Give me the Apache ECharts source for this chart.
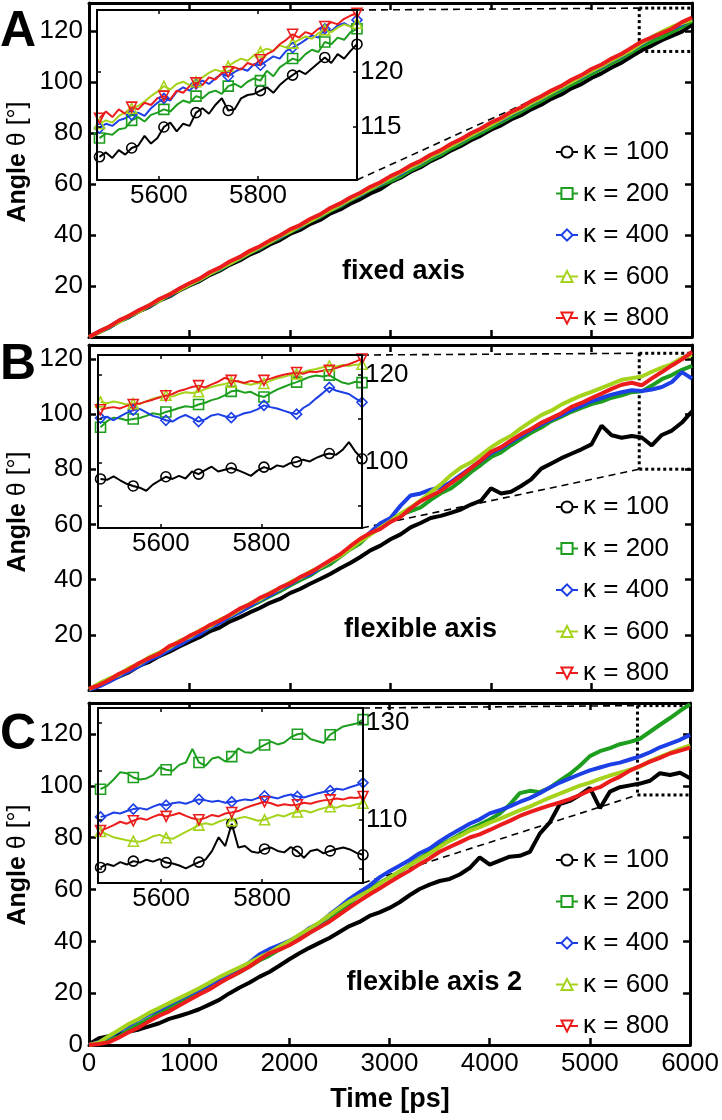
<!DOCTYPE html>
<html>
<head>
<meta charset="utf-8">
<script src="https://cdn.jsdelivr.net/npm/echarts@6/dist/echarts.min.js"></script>
<style>
html, body { margin: 0; padding: 0; background: #fff; }
#chart { width: 722px; height: 1120px; }
</style>
</head>
<body>
<div id="chart"></div>
<script>
// time axis of the main panels [ps]
var tMain = [0, 100, 200, 300, 400, 500, 600, 700, 800, 900,
  1000, 1100, 1200, 1300, 1400, 1500, 1600, 1700, 1800, 1900,
  2000, 2100, 2200, 2300, 2400, 2500, 2600, 2700, 2800, 2900,
  3000, 3100, 3200, 3300, 3400, 3500, 3600, 3700, 3800, 3900,
  4000, 4100, 4200, 4300, 4400, 4500, 4600, 4700, 4800, 4900,
  5000, 5100, 5200, 5300, 5400, 5500, 5600, 5700, 5800, 5900, 6000]
// time axis of the insets [ps]
var tIn = [5480, 5493, 5506, 5519, 5532, 5545, 5558, 5571, 5584, 5597,
  5610, 5623, 5636, 5649, 5662, 5675, 5688, 5701, 5714, 5727,
  5740, 5753, 5766, 5779, 5792, 5805, 5818, 5831, 5844, 5857,
  5870, 5883, 5896, 5909, 5922, 5935, 5948, 5961, 5974, 5987, 6000]

var seriesNames = ['κ = 100', 'κ = 200', 'κ = 400', 'κ = 600', 'κ = 800']
var mainXTicks = [0, 1000, 2000, 3000, 4000, 5000, 6000]
var mainYTicks = [0, 20, 40, 60, 80, 100, 120]
var mainYLabelsAB = [20, 40, 60, 80, 100, 120]
var insetXTicks = [5600, 5800]
var insetYTicksA = [115, 120]
var insetYTicksB = [90, 100, 110, 120]
var insetYLabelsB = [100, 120]
var insetYTicksC = [100, 110, 120, 130]
var insetYLabelsC = [110, 130]
var captions = ['fixed axis', 'flexible axis', 'flexible axis 2']
var panelLetters = ['A', 'B', 'C']

// panel A, fixed axis
var a100 = [0, 1.9, 3.8, 6.2, 7.9, 10.1, 11.8, 14.3, 15.9, 18.3,
  20.2, 21.9, 24.3, 26.0, 28.3, 30.0, 32.3, 34.0, 36.3, 38.0,
  40.4, 42.0, 44.3, 45.9, 48.4, 50.0, 52.3, 54.1, 56.3, 58.0,
  60.7, 62.5, 64.8, 66.6, 69.0, 70.8, 73.1, 74.9, 77.2, 79.0,
  81.3, 83.0, 85.3, 87.0, 89.3, 91.1, 93.4, 95.1, 97.5, 99.2,
  101.6, 103.4, 105.7, 107.6, 110.1, 112.5, 114.3, 116.4, 118.1, 119.8, 122.5]
var a200 = [0, 2.0, 3.7, 6.1, 7.8, 10.2, 12.0, 14.4, 16.2, 18.6,
  20.5, 22.3, 24.7, 26.4, 28.8, 30.6, 33.0, 34.7, 37.1, 38.9,
  41.2, 43.0, 45.4, 47.1, 49.5, 51.3, 53.7, 55.5, 57.8, 59.6,
  61.1, 63.0, 65.4, 67.3, 69.6, 71.5, 73.9, 75.8, 78.1, 80.0,
  82.2, 84.2, 86.4, 88.4, 90.6, 92.6, 94.8, 96.8, 99.0, 100.9,
  103.2, 105.2, 107.4, 109.3, 111.7, 114.1, 115.9, 117.6, 119.6, 121.6, 123.9]
var a400 = [0, 2.1, 3.9, 6.3, 8.1, 10.4, 12.2, 14.6, 16.4, 18.8,
  20.7, 22.5, 24.9, 26.7, 29.0, 30.9, 33.2, 35.0, 37.4, 39.2,
  41.6, 43.3, 45.7, 47.5, 49.9, 51.7, 54.0, 55.8, 58.2, 60.0,
  62.4, 64.1, 66.5, 68.3, 70.7, 72.5, 74.9, 76.8, 79.1, 81.0,
  83.3, 85.1, 87.4, 89.3, 91.7, 93.5, 95.9, 97.7, 100.1, 101.9,
  104.3, 106.0, 108.4, 110.2, 112.7, 115.0, 117.5, 119.4, 120.9, 122.7, 124.7]
var a600 = [0, 1.9, 4.1, 6.0, 8.4, 10.1, 12.5, 14.3, 16.8, 18.5,
  20.6, 22.6, 24.8, 26.9, 28.8, 31.0, 33.1, 35.2, 37.3, 39.5,
  41.4, 43.6, 45.5, 47.7, 49.8, 51.9, 54.0, 56.1, 58.2, 60.3,
  62.4, 64.5, 66.6, 68.5, 70.8, 72.7, 74.9, 77.0, 79.1, 81.2,
  83.3, 85.4, 87.6, 89.5, 91.8, 93.7, 95.9, 98.0, 100.0, 102.2,
  104.3, 106.3, 108.5, 110.5, 112.7, 115.3, 117.6, 119.7, 121.6, 123.1, 124.4]
var a800 = [0, 2.2, 4.0, 6.5, 8.3, 10.6, 12.4, 14.9, 16.6, 19.0,
  21.1, 22.9, 25.4, 27.2, 29.6, 31.4, 33.8, 35.6, 37.9, 39.8,
  42.2, 43.9, 46.3, 48.1, 50.6, 52.4, 54.7, 56.6, 58.9, 60.7,
  63.1, 64.9, 67.3, 69.1, 71.5, 73.3, 75.7, 77.6, 79.9, 81.8,
  84.1, 85.9, 88.3, 90.1, 92.5, 94.4, 96.7, 98.5, 100.9, 102.7,
  105.1, 106.9, 109.2, 111.1, 113.5, 115.9, 117.5, 119.2, 120.9, 123.5, 125.3]

// panel B, flexible axis
var b100 = [0.2, 1.5, 3.4, 4.9, 6.5, 8.8, 10.2, 12.3, 13.9, 15.8,
  17.5, 19.1, 21.2, 22.6, 24.8, 26.3, 28.1, 29.7, 31.6, 33.0,
  35.1, 36.6, 38.5, 40.2, 42.0, 44.1, 46.0, 48.2, 50.6, 52.3,
  54.6, 56.4, 58.9, 60.5, 62.3, 63.1, 64.2, 65.4, 67.2, 68.6,
  73.1, 71.2, 71.8, 73.9, 76.3, 80.2, 82.1, 84.0, 85.6, 87.2,
  89.0, 95.8, 92.3, 91.4, 92.0, 91.5, 88.6, 92.4, 94.0, 96.9, 101.0]
var b200 = [0.2, 1.5, 3.3, 5.2, 7.1, 9.0, 11.2, 12.9, 14.8, 16.9,
  18.7, 20.8, 22.4, 24.6, 26.3, 28.4, 30.2, 32.1, 34.0, 35.8,
  37.9, 39.8, 41.5, 43.9, 45.6, 48.3, 51.0, 53.2, 56.8, 59.1,
  61.0, 63.5, 64.8, 66.2, 68.9, 71.3, 73.0, 75.8, 78.9, 81.6,
  84.4, 86.1, 88.7, 91.0, 93.2, 95.1, 97.4, 99.0, 100.8, 102.2,
  103.6, 104.5, 105.9, 106.8, 107.9, 108.2, 110.3, 112.6, 114.1, 116.0, 117.4]
var b400 = [0.1, 1.3, 3.0, 5.0, 6.8, 8.7, 10.9, 12.5, 14.6, 16.3,
  18.5, 20.2, 22.6, 24.3, 26.5, 28.2, 30.4, 32.5, 34.3, 36.4,
  38.3, 40.5, 42.0, 44.3, 46.5, 48.8, 51.5, 54.0, 57.2, 60.4,
  62.3, 66.8, 70.5, 71.2, 72.6, 73.4, 75.3, 77.9, 80.5, 83.0,
  85.8, 87.6, 89.9, 92.0, 94.3, 96.2, 98.0, 99.6, 101.5, 102.9,
  104.6, 105.8, 107.0, 107.9, 108.6, 108.3, 108.9, 109.8, 111.6, 115.2, 112.8]
var b600 = [0.3, 2.4, 4.1, 5.6, 8.0, 9.5, 11.9, 13.6, 15.4, 17.8,
  19.2, 21.5, 23.0, 25.4, 27.0, 29.1, 31.3, 32.8, 35.2, 36.7,
  39.0, 40.6, 42.9, 44.4, 46.7, 48.6, 51.2, 53.9, 56.3, 58.8,
  61.2, 63.9, 66.1, 68.7, 71.6, 74.5, 77.8, 80.6, 82.4, 85.1,
  87.9, 90.2, 92.1, 94.9, 97.3, 99.6, 101.2, 103.4, 105.1, 106.7,
  108.0, 109.5, 110.9, 112.4, 113.0, 113.6, 115.3, 116.8, 118.1, 120.3, 121.4]
var b800 = [0.5, 1.8, 3.6, 5.9, 7.5, 9.8, 11.6, 13.2, 15.9, 17.4,
  19.6, 21.3, 23.5, 25.1, 27.2, 29.5, 31.0, 33.4, 34.9, 37.1,
  38.6, 40.9, 42.5, 44.8, 47.0, 49.2, 52.1, 54.8, 56.9, 58.4,
  60.9, 62.7, 65.8, 68.4, 70.3, 72.1, 74.9, 77.5, 80.4, 83.2,
  86.3, 88.0, 90.4, 92.7, 94.6, 96.8, 98.5, 100.3, 102.6, 104.0,
  105.8, 107.4, 109.1, 110.6, 111.3, 110.4, 112.9, 115.2, 117.6, 119.8, 122.5]

// panel C, flexible axis 2
var c100 = [0.3, 2.6, 3.4, 4.1, 5.2, 6.0, 7.2, 8.4, 10.1, 11.2,
  12.4, 13.8, 15.6, 17.4, 19.9, 22.1, 24.0, 26.3, 28.2, 30.6,
  33.1, 35.4, 37.5, 39.4, 41.3, 43.6, 45.9, 47.5, 49.8, 51.2,
  52.9, 55.1, 57.8, 60.2, 61.9, 63.3, 64.1, 65.8, 68.3, 72.4,
  69.6, 71.2, 72.7, 73.0, 74.5, 81.6, 85.9, 93.0, 94.2, 96.5,
  99.2, 91.4, 97.8, 99.5, 100.2, 100.9, 102.0, 104.9, 104.2, 105.1, 103.0]
var c200 = [0.0, 0.6, 2.1, 3.2, 5.9, 8.1, 10.0, 12.4, 14.2, 16.5,
  18.3, 20.1, 22.4, 24.0, 26.2, 28.0, 30.3, 32.6, 34.5, 36.8,
  38.9, 41.0, 43.3, 45.5, 48.1, 51.4, 54.6, 57.8, 60.2, 62.5,
  64.7, 66.8, 69.5, 72.0, 74.6, 77.1, 79.0, 81.2, 83.3, 85.1,
  87.0, 89.3, 92.8, 97.2, 98.1, 97.6, 99.3, 102.0, 104.6, 107.8,
  111.5, 113.4, 114.6, 116.1, 117.0, 118.2, 120.9, 123.6, 126.2, 129.0, 131.5]
var c400 = [0.0, 1.2, 3.3, 5.4, 7.6, 9.8, 11.9, 13.6, 15.7, 17.6,
  19.5, 21.3, 23.4, 25.1, 27.3, 29.2, 31.8, 34.9, 37.0, 38.6,
  40.2, 42.3, 45.1, 47.0, 50.3, 53.2, 56.4, 59.0, 61.5, 64.7,
  67.1, 69.2, 71.4, 74.0, 75.8, 78.6, 81.0, 83.2, 85.4, 87.1,
  89.4, 90.6, 92.1, 93.8, 95.3, 97.2, 99.4, 101.3, 102.9, 104.5,
  106.0, 107.1, 108.2, 109.0, 110.2, 111.4, 113.0, 114.9, 116.3, 117.8, 119.7]
var c600 = [0.0, 1.0, 3.5, 5.8, 8.2, 10.1, 12.4, 14.3, 16.2, 18.1,
  20.0, 21.9, 24.0, 26.2, 28.1, 29.9, 31.7, 33.8, 35.6, 37.9,
  40.1, 42.6, 44.9, 47.3, 50.1, 52.8, 55.4, 57.5, 59.6, 62.2,
  64.6, 67.1, 69.3, 71.7, 73.9, 76.4, 78.8, 80.6, 82.7, 84.1,
  85.8, 87.3, 88.9, 90.6, 92.0, 93.8, 95.5, 97.0, 98.6, 100.1,
  101.3, 102.7, 104.0, 105.1, 106.3, 107.4, 109.6, 111.2, 112.8, 114.3, 115.6]
var c800 = [0.0, 0.4, 1.1, 2.9, 5.0, 6.8, 9.2, 11.3, 13.0, 15.2,
  17.4, 19.5, 21.4, 23.8, 26.0, 28.1, 30.2, 32.9, 35.4, 36.8,
  38.5, 40.7, 43.2, 45.4, 47.6, 50.3, 53.0, 55.6, 58.1, 60.4,
  62.8, 65.1, 67.3, 69.8, 72.0, 74.6, 76.4, 78.2, 80.1, 81.3,
  83.0, 84.8, 86.5, 88.4, 89.9, 91.2, 92.5, 93.6, 94.9, 96.5,
  98.3, 99.5, 101.8, 103.6, 105.9, 107.7, 109.4, 110.8, 112.5, 113.6, 114.8]

// insets (last ~500 ps)
var ia100 = [112.3, 112.7, 112.2, 112.9, 112.5, 113.1, 113.3, 114.2, 113.5, 114.0,
  115.0, 115.4, 114.6, 115.3, 115.1, 116.3, 116.7, 116.2, 117.0, 117.6,
  116.5, 116.6, 117.6, 117.9, 118.0, 118.3, 118.6, 118.1, 118.8, 119.3,
  119.7, 120.1, 119.8, 120.3, 120.8, 121.3, 120.8, 121.6, 121.2, 121.9, 122.5]
var ia200 = [114.0, 114.4, 114.3, 114.8, 114.9, 115.6, 115.9, 115.5, 116.1, 116.3,
  116.6, 116.4, 117.0, 117.4, 117.2, 117.8, 117.6, 118.1, 118.3, 118.0,
  118.7, 118.9, 118.6, 119.1, 119.4, 119.2, 120.1, 119.6, 120.4, 120.8,
  121.2, 121.0, 121.6, 122.0, 121.8, 122.7, 122.5, 123.1, 122.9, 123.6, 123.9]
var ia400 = [114.9, 115.3, 115.1, 115.6, 115.8, 116.1, 116.3, 116.0, 116.7, 117.2,
  117.6, 117.4, 118.2, 118.6, 118.3, 118.9, 119.2, 118.9, 119.4, 119.8,
  119.6, 120.0, 120.3, 120.1, 120.7, 120.6, 121.0, 121.4, 121.2, 121.9,
  122.2, 122.5, 122.9, 123.3, 123.1, 123.9, 123.7, 124.2, 124.4, 124.1, 124.7]
var ia600 = [115.3, 115.6, 115.4, 116.0, 116.3, 116.7, 116.9, 117.3, 117.8, 118.2,
  118.7, 118.4, 118.9, 119.1, 118.8, 119.1, 119.5, 119.9, 120.2, 120.0,
  120.5, 120.9, 121.2, 121.0, 121.5, 121.8, 122.1, 121.9, 122.4, 122.2,
  122.6, 122.9, 123.2, 123.0, 123.5, 123.8, 123.6, 124.0, 124.3, 124.1, 124.4]
var ia800 = [115.8, 116.4, 115.9, 116.6, 116.2, 116.8, 116.6, 117.2, 117.0, 117.6,
  117.8, 117.5, 118.3, 118.1, 118.7, 119.0, 118.8, 119.5, 119.3, 119.9,
  120.0, 120.4, 120.2, 120.8, 120.6, 121.1, 121.6, 121.9, 122.5, 122.9,
  123.4, 123.1, 123.6, 123.4, 123.9, 124.1, 124.5, 124.3, 124.8, 125.1, 125.3]

var ib100 = [96.2, 96.0, 96.8, 95.9, 95.1, 94.6, 94.2, 93.5, 94.9, 95.8,
  96.7, 96.2, 96.9, 96.3, 97.9, 97.3, 98.2, 99.0, 97.9, 98.3,
  98.7, 98.2, 97.6, 96.9, 98.1, 98.9, 98.4, 99.3, 99.0, 99.8,
  100.1, 100.6, 100.2, 101.0, 101.6, 102.0, 101.7, 102.8, 104.6, 102.4, 100.8]
var ib200 = [108.0, 109.4, 110.2, 110.0, 109.6, 109.9, 110.1, 110.6, 111.2, 110.9,
  111.5, 111.9, 112.4, 112.8, 112.6, 113.2, 113.6, 114.2, 114.6, 115.3,
  116.2, 116.4, 115.9, 116.1, 115.3, 114.9, 115.8, 116.6, 117.2, 117.8,
  118.3, 118.9, 119.5, 119.8, 119.6, 119.9, 119.0, 118.2, 117.9, 118.4, 118.2]
var ib400 = [110.1, 110.4, 109.6, 110.5, 111.3, 111.9, 112.2, 111.4, 110.6, 110.2,
  109.6, 109.3, 110.2, 110.8, 110.1, 109.3, 109.8, 110.7, 111.0, 110.5,
  110.2, 110.6, 111.2, 111.5, 112.1, 113.0, 112.6, 112.3, 111.8, 111.3,
  111.0, 112.4, 113.3, 114.6, 115.8, 117.1, 116.4, 116.0, 115.6, 114.6, 113.7]
var ib600 = [113.8, 113.5, 113.9, 113.6, 113.2, 113.4, 113.3, 113.9, 114.5, 114.9,
  115.3, 115.0, 115.6, 116.0, 115.8, 116.1, 116.7, 117.2, 117.6, 117.9,
  118.3, 118.5, 118.0, 117.7, 118.1, 118.0, 118.6, 119.2, 119.5, 119.9,
  120.2, 120.6, 121.0, 121.3, 121.7, 122.0, 121.8, 122.2, 122.0, 122.3, 122.4]
var ib800 = [112.0, 112.4, 112.6, 112.3, 112.9, 113.2, 113.4, 113.9, 114.3, 114.8,
  115.2, 115.6, 116.3, 116.7, 117.2, 117.5, 117.1, 117.8, 118.4, 119.3,
  118.7, 118.5, 118.1, 118.6, 118.3, 118.7, 119.1, 119.6, 120.0, 120.3,
  120.5, 120.2, 120.7, 120.6, 120.9, 121.0, 121.5, 122.0, 122.4, 123.0, 123.6]

var ic100 = [100.2, 100.9, 100.5, 101.3, 100.8, 101.5, 101.2, 101.8, 101.4, 101.9,
  101.2, 101.0, 100.6, 100.0, 100.7, 101.3, 101.8, 103.6, 106.4, 104.6,
  109.2, 104.3, 104.6, 103.5, 103.2, 104.0, 104.3, 103.6, 103.3, 104.4,
  103.5, 102.2, 103.6, 103.9, 103.1, 103.6, 104.0, 104.3, 103.9, 103.2, 102.8]
var ic200 = [116.3, 117.0, 118.3, 119.8, 119.6, 118.7, 118.3, 118.5, 119.2, 120.8,
  120.3, 120.1, 121.3, 121.8, 124.6, 121.8, 121.1, 122.6, 122.9, 122.0,
  123.0, 124.7, 123.9, 123.8, 124.7, 125.4, 126.1, 125.5, 125.9, 127.0,
  127.6, 127.8, 126.6, 126.2, 125.8, 127.5, 128.4, 129.2, 129.5, 129.8, 130.6]
var ic400 = [110.6, 110.9, 111.5, 111.3, 111.8, 112.2, 112.4, 112.1, 112.7, 113.2,
  113.0, 113.4, 113.6, 113.3, 113.8, 114.2, 114.0, 113.7, 113.9, 113.5,
  113.7, 113.9, 114.2, 114.0, 114.5, 114.9, 114.7, 114.4, 114.9, 115.2,
  114.8, 114.6, 115.0, 115.4, 115.7, 116.0, 116.4, 116.2, 116.7, 117.1, 117.6]
var ic600 = [107.6, 107.0, 106.4, 106.1, 105.8, 105.6, 105.5, 105.9, 106.6, 106.9,
  106.3, 106.1, 106.8, 107.5, 108.2, 108.9, 109.3, 109.0, 109.6, 110.1,
  109.8, 110.3, 110.6, 110.2, 109.8, 110.0, 110.5, 111.0, 110.7, 111.3,
  111.6, 111.9, 111.5, 112.0, 112.4, 112.7, 112.5, 113.0, 112.8, 113.2, 113.4]
var ic800 = [107.8, 108.3, 108.9, 109.6, 109.2, 109.8, 110.3, 110.0, 110.6, 111.1,
  110.7, 111.0, 111.4, 110.8, 110.3, 110.0, 110.4, 111.0, 110.7, 111.3,
  111.5, 111.8, 112.4, 112.9, 113.3, 113.7, 113.4, 112.9, 113.2, 113.0,
  113.1, 113.5, 113.3, 113.7, 114.0, 114.1, 114.4, 114.2, 114.6, 114.5, 114.8]

// zoom window drawn on each main panel (theta range)
var boxLo = [112, 80, 96.5]
var boxHi = [129, 122, 131]
var boxX0 = 5475

var FONT = "'Liberation Sans', Arial, Helvetica, sans-serif"
var colors = ['#000000', '#1e9e1e', '#1d3fe6', '#a5d31c', '#ec1c1c']
var mainSym = ['emptyCircle', 'emptyRect', 'emptyDiamond', 'emptyTriangle', 'emptyTriangle']
var insetSym = ['circle', 'rect', 'diamond', 'triangle', 'triangle']
var symRot = [0, 0, 0, 0, 180]

var mainData = [[a100, a200, a400, a600, a800], [b100, b200, b400, b600, b800], [c100, c200, c400, c600, c800]]
var insetData = [[ia100, ia200, ia400, ia600, ia800], [ib100, ib200, ib400, ib600, ib800], [ic100, ic200, ic400, ic600, ic800]]

var mainTop = [3, 345, 703]
var mainHeight = [334, 345, 342]
var mainYMax = [131, 125, 132]
var insetRect = [[97, 10, 260, 170], [98, 355, 264, 173], [98, 708, 265, 175]]
var insetYMin = [110.2, 85, 97]
var insetYMax = [125.6, 124.5, 133]
var insetYTicks = [insetYTicksA, insetYTicksB, insetYTicksC]
var insetYLabels = [insetYTicksA, insetYLabelsB, insetYLabelsC]
var legendTop = [134, 489, 842]

function pairs(t, v) {
  return t.map(function (x, i) { return [x, v[i]] })
}

var grids = [], xAxes = [], yAxes = [], series = [], legends = []
var labelStyle = { fontSize: 26, color: '#000', fontFamily: FONT }

function axis(g, pos, min, max, ticks, labels, big) {
  return {
    gridIndex: g, type: 'value', position: pos, min: min, max: max,
    axisLine: { onZero: false, lineStyle: { color: '#000', width: big ? 3 : 2 } },
    axisTick: { inside: true, length: big ? 7 : 4, customValues: ticks,
      lineStyle: { color: '#000', width: big ? 2.5 : 1.5 } },
    axisLabel: labels ? Object.assign({
      customValues: labels, margin: big ? 6 : 3,
      formatter: function (v) { return String(v) }
    }, labelStyle) : { show: false },
    splitLine: { show: false },
    z: big ? 0 : 6
  }
}

for (var p = 0; p < 3; p++) {
  var gm = 2 * p, gi = 2 * p + 1
  grids.push({ left: 89, top: mainTop[p], width: 603, height: mainHeight[p] })
  grids.push({ left: insetRect[p][0], top: insetRect[p][1], width: insetRect[p][2], height: insetRect[p][3],
    show: true, backgroundColor: '#fff', borderWidth: 0, z: 3 })

  xAxes.push(axis(gm, 'bottom', 0, 6000, mainXTicks, p === 2 ? mainXTicks : null, true))
  xAxes.push(axis(gm, 'top', 0, 6000, mainXTicks, null, true))
  xAxes.push(axis(gi, 'bottom', 5475, 6000, insetXTicks, insetXTicks, false))
  xAxes.push(axis(gi, 'top', 5475, 6000, insetXTicks, null, false))

  yAxes.push(axis(gm, 'left', 0, mainYMax[p], mainYTicks, p === 2 ? mainYTicks : mainYLabelsAB, true))
  yAxes.push(axis(gm, 'right', 0, mainYMax[p], mainYTicks, null, true))
  yAxes.push(axis(gi, 'left', insetYMin[p], insetYMax[p], insetYTicks[p], null, false))
  yAxes.push(axis(gi, 'right', insetYMin[p], insetYMax[p], insetYTicks[p], insetYLabels[p], false))

  for (var i = 0; i < 5; i++) {
    series.push({
      type: 'line', name: seriesNames[i], xAxisIndex: 2 * gm, yAxisIndex: 2 * gm,
      data: pairs(tMain, mainData[p][i]),
      showSymbol: false, symbol: mainSym[i], symbolRotate: symRot[i], symbolSize: 11,
      lineStyle: { color: colors[i], width: 4 }, itemStyle: { color: colors[i] },
      z: 2, silent: true
    })
  }
  for (var j = 0; j < 5; j++) {
    series.push({
      type: 'line', name: 'inset ' + panelLetters[p] + ' ' + seriesNames[j],
      xAxisIndex: 2 * gi, yAxisIndex: 2 * gi,
      data: pairs(tIn, insetData[p][j]),
      showSymbol: true, showAllSymbol: true,
      symbol: (function (s) {
        return function (v, params) { return params.dataIndex % 5 === 0 ? s : 'none' }
      })(insetSym[j]),
      symbolRotate: symRot[j], symbolSize: 10,
      lineStyle: { color: colors[j], width: 2 },
      itemStyle: { color: 'rgba(0,0,0,0)', borderColor: colors[j], borderWidth: 1.6 },
      z: 5, silent: true
    })
  }

  legends.push({
    data: seriesNames, orient: 'vertical', left: 550, top: legendTop[p],
    itemWidth: 22, itemHeight: 14, itemGap: 15.5, selectedMode: false,
    textStyle: { fontSize: 26, lineHeight: 26, color: '#000', fontFamily: FONT }
  })
}

var chart = echarts.init(document.getElementById('chart'), null, { renderer: 'canvas' })
chart.setOption({
  animation: false,
  backgroundColor: '#fff',
  grid: grids,
  xAxis: xAxes,
  yAxis: yAxes,
  legend: legends,
  series: series
})

// zoom boxes, connectors and text
var graphics = []
function px(g, x, y) {
  return chart.convertToPixel({ gridIndex: g }, [x, y])
}
function seg(a, b, dotted) {
  return {
    type: 'line', z: 1, silent: true,
    shape: { x1: a[0], y1: a[1], x2: b[0], y2: b[1] },
    style: dotted ? { stroke: '#000', lineWidth: 3, lineDash: [3, 3] }
                  : { stroke: '#000', lineWidth: 1.6, lineDash: [7, 5] }
  }
}
var yTitleY = [162, 512, 865]
var letterY = [32, 365, 735]
var captionX = [465, 497, 522]
var captionY = [272, 630, 983]
for (var k = 0; k < 3; k++) {
  var tl = px(2 * k, boxX0, boxHi[k]), bl = px(2 * k, boxX0, boxLo[k])
  var tr = px(2 * k, 6000, boxHi[k]), br = px(2 * k, 6000, boxLo[k])
  var itr = px(2 * k + 1, 6000, insetYMax[k]), ibr = px(2 * k + 1, 6000, insetYMin[k])
  graphics.push(seg(itr, tl, false), seg(ibr, bl, false))
  graphics.push(seg(tl, tr, true), seg(tl, bl, true), seg(bl, br, true))

  graphics.push({
    type: 'text', x: 0, y: letterY[k], z: 10, silent: true,
    style: { text: panelLetters[k], fill: '#000', font: 'bold 50px ' + FONT, align: 'left', verticalAlign: 'middle' }
  })
  graphics.push({
    type: 'text', x: 18, y: yTitleY[k], rotation: Math.PI / 2, z: 10, silent: true,
    style: {
      text: '{b|Angle} θ [°]', fill: '#000', font: '25px ' + FONT, align: 'center', verticalAlign: 'middle',
      rich: { b: { fontWeight: 'bold', fontSize: 25, fontFamily: FONT, fill: '#000' } }
    }
  })
  graphics.push({
    type: 'text', x: captionX[k], y: captionY[k], z: 10, silent: true,
    style: { text: captions[k], fill: '#000', font: 'bold 27px ' + FONT, align: 'right', verticalAlign: 'middle' }
  })
}
graphics.push({
  type: 'text', x: 390, y: 1100, z: 10, silent: true,
  style: { text: 'Time [ps]', fill: '#000', font: 'bold 27px ' + FONT, align: 'center', verticalAlign: 'middle' }
})
chart.setOption({ graphic: graphics })
</script>
</body>
</html>
